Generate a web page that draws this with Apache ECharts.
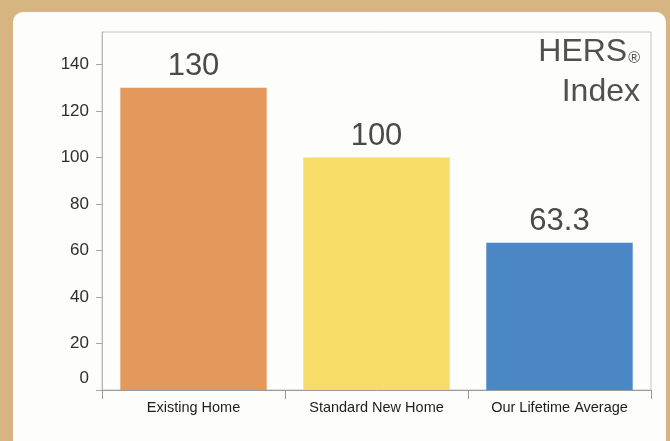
<!DOCTYPE html>
<html>
<head>
<meta charset="utf-8">
<style>
html,body{margin:0;padding:0;background:#d6b582;}
#c{width:670px;height:441px;}
</style>
<script src="https://cdn.jsdelivr.net/npm/echarts@6/dist/echarts.min.js"></script>
</head>
<body>
<div id="c"></div>
<script>
const categories = ['Existing Home', 'Standard New Home', 'Our Lifetime Average'];
const values = [130, 100, 63.3];
const valueLabels = ['130', '100', '63.3'];
const barColors = ['#e3995d', '#f7dc68', '#4b87c4'];
const yTicks = [0, 20, 40, 60, 80, 100, 120, 140];
const titleLines = ['HERS', '®', 'Index'];

const FONT = 'Liberation Sans, Arial, sans-serif';
const chart = echarts.init(document.getElementById('c'), null, {renderer: 'canvas'});
chart.setOption({
  backgroundColor: '#d6b582',
  animation: false,
  graphic: [{
    type: 'rect', z: -10, silent: true,
    shape: {x: 13, y: 12, width: 653, height: 450, r: 10},
    style: {fill: '#fdfdfb'}
  }, {
    type: 'text', silent: true, z: 10,
    x: 640, y: 32,
    style: {
      text: '{a|' + titleLines[0] + '}{b|' + titleLines[1] + '}\n{a|' + titleLines[2] + '}',
      align: 'right', verticalAlign: 'top',
      rich: {
        a: {fontFamily: FONT, fontSize: 32, fontWeight: 'normal', fill: '#505050', lineHeight: 40, align: 'right'},
        b: {fontFamily: FONT, fontSize: 16, fontWeight: 'normal', fill: '#505050', lineHeight: 40, verticalAlign: 'bottom', padding: [0, 0, 5, 1]}
      }
    }
  }],
  grid: {
    left: 102, right: 19, top: 32, bottom: 51,
    show: true, borderColor: '#c4c4c4', borderWidth: 1, backgroundColor: 'transparent'
  },
  xAxis: {
    type: 'category',
    data: categories,
    axisLine: {show: true, lineStyle: {color: '#9a9a9a', width: 1}},
    axisTick: {show: true, length: 9, alignWithLabel: false, lineStyle: {color: '#9a9a9a'}},
    axisLabel: {
      margin: 10,
      fontFamily: FONT,
      fontSize: 14.5, color: '#1e1e1e'
    }
  },
  yAxis: {
    type: 'value',
    min: 0, max: 154, interval: 20,
    splitLine: {show: false},
    axisLine: {show: true, lineStyle: {color: '#b8b8b8'}},
    axisTick: {show: true, length: 6, customValues: yTicks, lineStyle: {color: '#a8a8a8'}},
    axisLabel: {
      customValues: yTicks,
      margin: 13,
      fontFamily: FONT,
      fontSize: 17, color: '#2e2e2e',
      formatter: function (v) { return v === 0 ? '{z|0}' : String(v); },
      rich: {z: {fontSize: 17, color: '#2e2e2e', fontFamily: FONT, padding: [0, 0, 24, 0]}}
    }
  },
  series: [{
    type: 'bar',
    barCategoryGap: '20%',
    data: values.map((v, i) => ({value: v, itemStyle: {color: barColors[i]}})),
    label: {
      show: true, position: 'top', distance: 6,
      fontFamily: FONT,
      fontSize: 31, color: '#4a4a4a',
      formatter: p => valueLabels[p.dataIndex]
    }
  }]
});
</script>
</body>
</html>
